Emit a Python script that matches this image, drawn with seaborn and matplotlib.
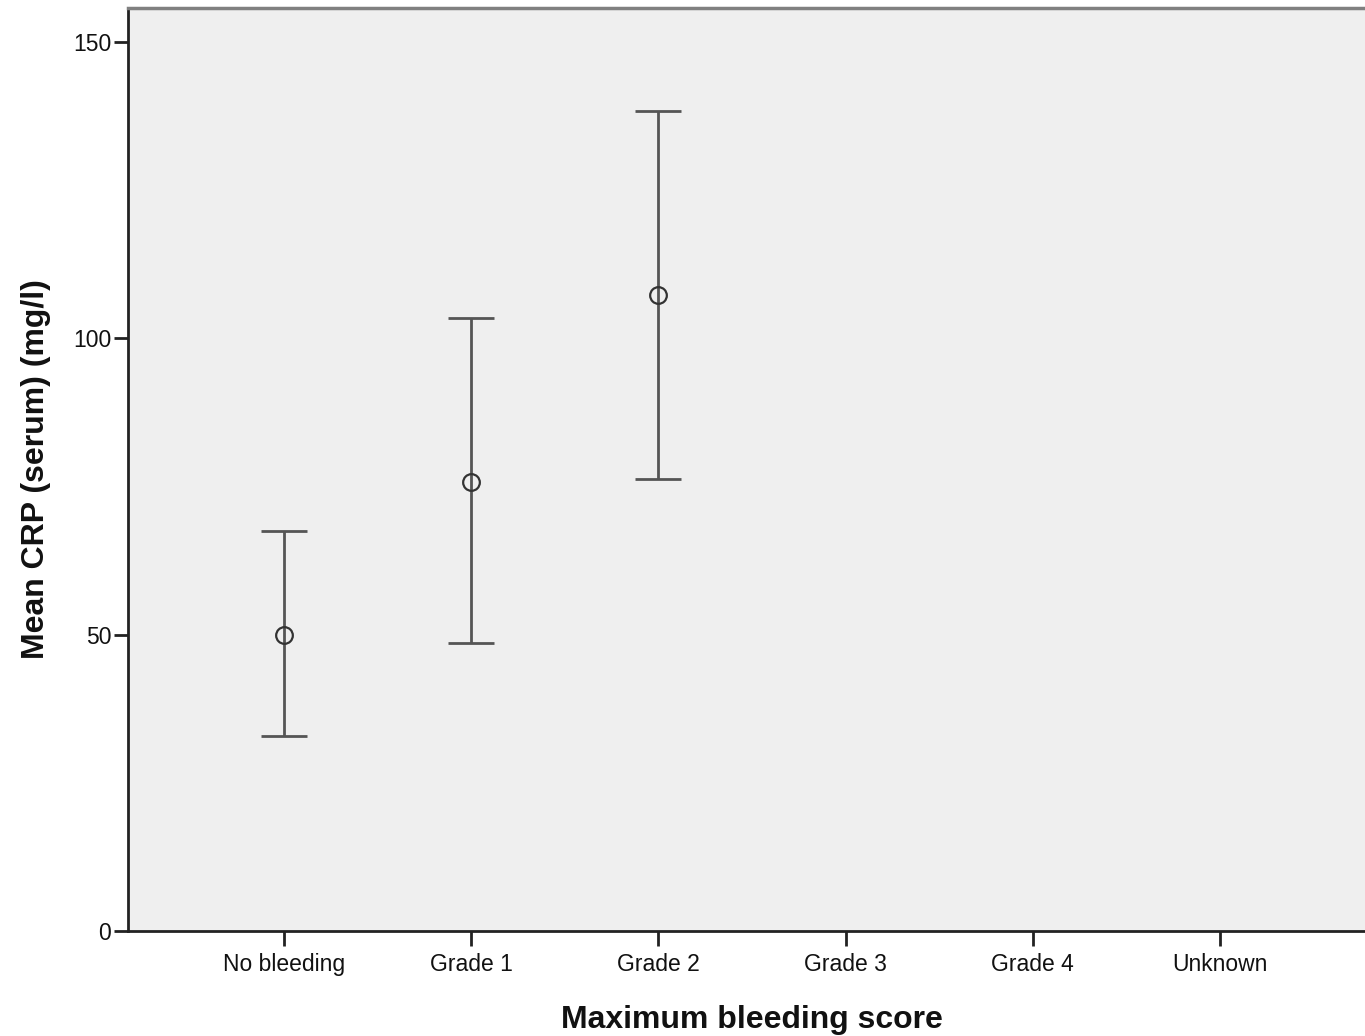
import numpy as np
import pandas as pd
import matplotlib
import matplotlib.pyplot as plt
import seaborn as sns

# ── Data ─────────────────────────────────────────────────────────────────────
CATEGORIES = ['No bleeding', 'Grade 1', 'Grade 2', 'Grade 3', 'Grade 4', 'Unknown']
MEANS      = [50.0, 75.8, 107.3, np.nan, np.nan, np.nan]
CI_LOW     = [32.9, 48.5, 76.2, np.nan, np.nan, np.nan]
CI_HIGH    = [67.4, 103.4, 138.3, np.nan, np.nan, np.nan]
Y_TICKS    = [0, 50, 100, 150]

# ── Style ────────────────────────────────────────────────────────────────────
sns.set_style('white')
plt.rcParams['font.family'] = ['Liberation Sans', 'DejaVu Sans']

df = pd.DataFrame({'Score': CATEGORIES, 'CRP': MEANS,
                   'lo': CI_LOW, 'hi': CI_HIGH})

fig = plt.figure(figsize=(13.65, 10.36), dpi=100)
ax = fig.add_axes([0.0938, 0.1014, 0.9143, 0.8909])
ax.set_facecolor('#efefef')

# error bars (95% CI)
valid = df.dropna()
pos = [CATEGORIES.index(c) for c in valid['Score']]
ax.errorbar(pos, valid['CRP'],
            yerr=[valid['CRP'] - valid['lo'], valid['hi'] - valid['CRP']],
            fmt='none', ecolor='#555555', elinewidth=2, capsize=16.5,
            capthick=2, zorder=2)

# means
sns.pointplot(data=df, x='Score', y='CRP', order=CATEGORIES,
              linestyle='none', errorbar=None, markers='o',
              color='#333333', ax=ax, zorder=3,
              markersize=12, markerfacecolor='none', markeredgewidth=1.6)

ax.set_xlim(-0.834, 5.834)
ax.set_ylim(0, 155.7)
ax.set_yticks(Y_TICKS)

ax.set_xlabel('Maximum bleeding score', fontsize=23, fontweight='bold',
              labelpad=21, color='#111111')
ax.set_ylabel('Mean CRP (serum) (mg/l)', fontsize=23, fontweight='bold',
              labelpad=16, color='#111111')

ax.tick_params(axis='y', direction='out', length=10, width=2, labelsize=16.5,
               color='#222222', labelcolor='#111111', left=True, pad=2)
ax.tick_params(axis='x', direction='out', length=11, width=2, labelsize=16.5,
               color='#222222', labelcolor='#111111', bottom=True, pad=5)

for side in ['left', 'bottom']:
    ax.spines[side].set_color('#222222')
    ax.spines[side].set_linewidth(2)
ax.spines['top'].set_color('#808080')
ax.spines['top'].set_linewidth(2.5)
ax.spines['right'].set_visible(False)

fig.savefig('out.png', dpi=100)
